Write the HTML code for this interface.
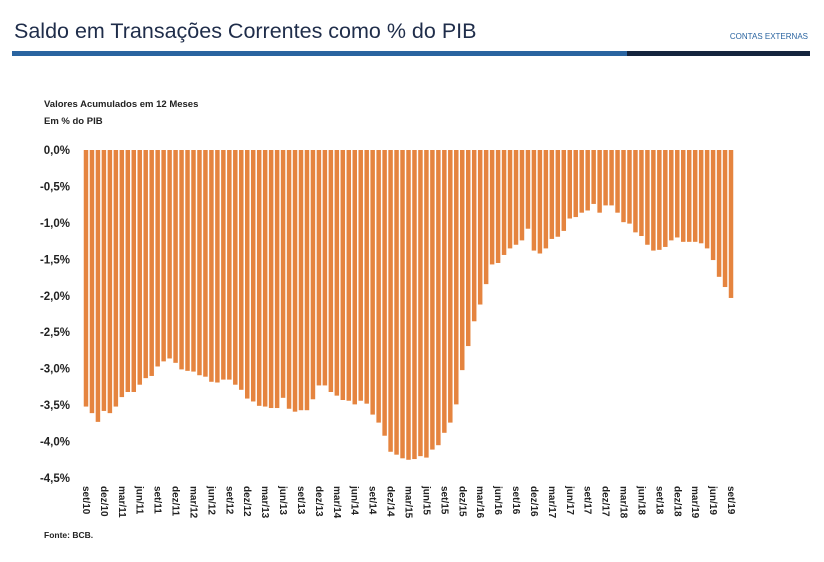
<!DOCTYPE html>
<html><head><meta charset="utf-8"><style>
body{margin:0;background:#fff;width:824px;height:557px;overflow:hidden;font-family:"Liberation Sans",sans-serif}
</style></head><body>
<svg width="824" height="557" viewBox="0 0 824 557">
<text x="14" y="38" font-size="21.5" fill="#1f2d4a">Saldo em Transações Correntes como % do PIB</text>
<text x="808" y="39" font-size="8" fill="#2a64a0" text-anchor="end">CONTAS EXTERNAS</text>
<rect x="12" y="51" width="615" height="5" fill="#2a64a0"/>
<rect x="627" y="51" width="183" height="5" fill="#14243d"/>
<text x="44" y="107" font-size="9.5" font-weight="bold" fill="#222">Valores Acumulados em 12 Meses</text>
<text x="44" y="124" font-size="9.5" font-weight="bold" fill="#222">Em % do PIB</text>
<g id="yaxis"></g>
<g id="bars"></g>
<g id="xaxis"></g>
<text x="44" y="538" font-size="8.5" font-weight="bold" fill="#222">Fonte: BCB.</text>
</svg>
<script>
const values = [-3.52,-3.61,-3.73,-3.58,-3.61,-3.52,-3.39,-3.32,-3.32,-3.22,-3.13,-3.10,-2.97,-2.90,-2.86,-2.92,-3.01,-3.03,-3.04,-3.09,-3.11,-3.18,-3.19,-3.15,-3.15,-3.22,-3.29,-3.41,-3.45,-3.51,-3.52,-3.54,-3.54,-3.40,-3.55,-3.59,-3.57,-3.57,-3.42,-3.23,-3.23,-3.32,-3.37,-3.43,-3.44,-3.49,-3.44,-3.48,-3.63,-3.74,-3.92,-4.14,-4.18,-4.23,-4.25,-4.24,-4.20,-4.22,-4.11,-4.05,-3.88,-3.74,-3.49,-3.02,-2.69,-2.35,-2.12,-1.84,-1.57,-1.55,-1.44,-1.35,-1.30,-1.24,-1.08,-1.38,-1.42,-1.35,-1.22,-1.19,-1.11,-0.94,-0.92,-0.86,-0.83,-0.74,-0.86,-0.76,-0.76,-0.86,-0.99,-1.01,-1.13,-1.18,-1.30,-1.38,-1.37,-1.33,-1.24,-1.20,-1.26,-1.26,-1.26,-1.28,-1.35,-1.51,-1.74,-1.88,-2.03];
const yTicks = [0,-0.5,-1,-1.5,-2,-2.5,-3,-3.5,-4,-4.5];
const xLabels = ["set/10","dez/10","mar/11","jun/11","set/11","dez/11","mar/12","jun/12","set/12","dez/12","mar/13","jun/13","set/13","dez/13","mar/14","jun/14","set/14","dez/14","mar/15","jun/15","set/15","dez/15","mar/16","jun/16","set/16","dez/16","mar/17","jun/17","set/17","dez/17","mar/18","jun/18","set/18","dez/18","mar/19","jun/19","set/19"];
const NS="http://www.w3.org/2000/svg";
const x0=83,x1=734,yTop=150,yBot=478,vMin=-4.5;
const n=values.length, pitch=(x1-x0)/n;
function y(v){return yTop+(v/vMin)*(yBot-yTop);}
function xc(i){return x0+pitch*(i+0.5);}
const ya=document.getElementById('yaxis');
yTicks.forEach(t=>{const e=document.createElementNS(NS,'text');


e.setAttribute('x',70);e.setAttribute('y',y(t)+4);e.setAttribute('text-anchor','end');
e.setAttribute('font-size','11.5');e.setAttribute('font-weight','bold');e.setAttribute('fill','#222');
e.textContent=t.toFixed(1).replace('.',',')+'%';ya.appendChild(e);});
const bg=document.getElementById('bars');
values.forEach((v,i)=>{const r=document.createElementNS(NS,'rect');


const w=pitch*0.75;r.setAttribute('x',xc(i)-w/2);r.setAttribute('y',yTop);
r.setAttribute('width',w);r.setAttribute('height',y(v)-yTop);r.setAttribute('fill','#e5843f');bg.appendChild(r);});
const xa=document.getElementById('xaxis');
xLabels.forEach((l,k)=>{const i=k*3;const e=document.createElementNS(NS,'text');


const cx=xc(i)-3,cy=486;
e.setAttribute('x',cx);e.setAttribute('y',cy);e.setAttribute('transform','rotate(90 '+cx+' '+cy+')');
e.setAttribute('font-size','10');e.setAttribute('font-weight','bold');e.setAttribute('fill','#222');
e.textContent=l;xa.appendChild(e);});
</script>
</body></html>
